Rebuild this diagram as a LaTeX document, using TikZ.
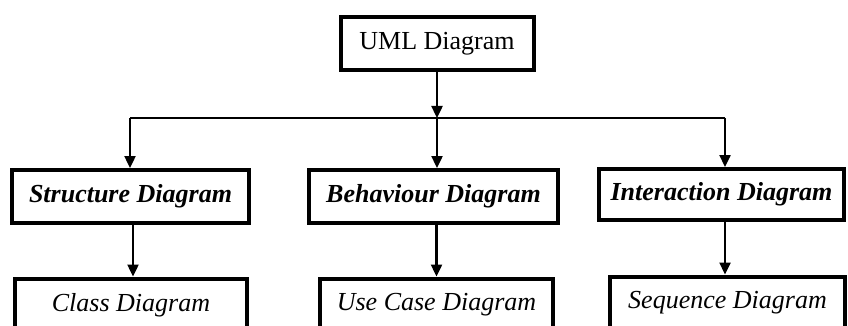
\documentclass[tikz,border=0pt]{standalone}
\usepackage{fontspec}
\setmainfont{Liberation Serif}
\usetikzlibrary{arrows.meta}
\begin{document}
\begin{tikzpicture}[x=1pt,y=-1pt,
  box/.style={draw=black, line width=4pt, fill=white, rectangle, inner sep=0pt,
    font=\fontsize{26}{30}\selectfont},
  bi/.style={font=\fontsize{26}{30}\selectfont\bfseries\itshape},
  it/.style={font=\fontsize{26}{30}\selectfont\itshape},
  conn/.style={line width=2.4pt, draw=black},
  arr/.style={conn, -{Triangle[width=11pt,length=12pt]}}]
\useasboundingbox (0,0) rectangle (848,326);
\clip (0,0) rectangle (848,326);
\node[box, minimum width=193pt, minimum height=53pt] (top) at (437,43.5) {UML Diagram};
\node[box, bi, minimum width=237pt, minimum height=53pt] (s) at (130.5,196.5) {Structure Diagram};
\node[box, bi, minimum width=249pt, minimum height=53pt] (b) at (433.5,196.5) {Behaviour Diagram};
\node[box, bi, minimum width=245pt, minimum height=51pt] (i) at (721.5,194.5) {Interaction Diagram};
\node[box, it, minimum width=232pt, minimum height=53pt] (c) at (131,305) {Class Diagram};
\node[box, it, minimum width=233pt, minimum height=53pt] (u) at (436.5,305) {Use Case Diagram};
\node[box, it, minimum width=235pt, minimum height=53pt] (q) at (727.5,303) {Sequence Diagram};
\coordinate (j) at (437,118);
\coordinate (jl) at (130,118);
\coordinate (jr) at (725,118);
\draw[conn] (jl) -- (jr);
\draw[arr] (top.south) -- (j);
\draw[arr] (jl) -- (jl |- s.north);
\draw[arr] (j) -- (j |- b.north);
\draw[arr] (jr) -- (jr |- i.north);
\draw[arr] (s.south) ++(2.5,0) coordinate (s2) -- (s2 |- c.north);
\draw[arr] (b.south) ++(3,0) coordinate (b2) -- (b2 |- u.north);
\draw[arr] (jr |- i.south) -- (jr |- q.north);
\end{tikzpicture}
\end{document}
